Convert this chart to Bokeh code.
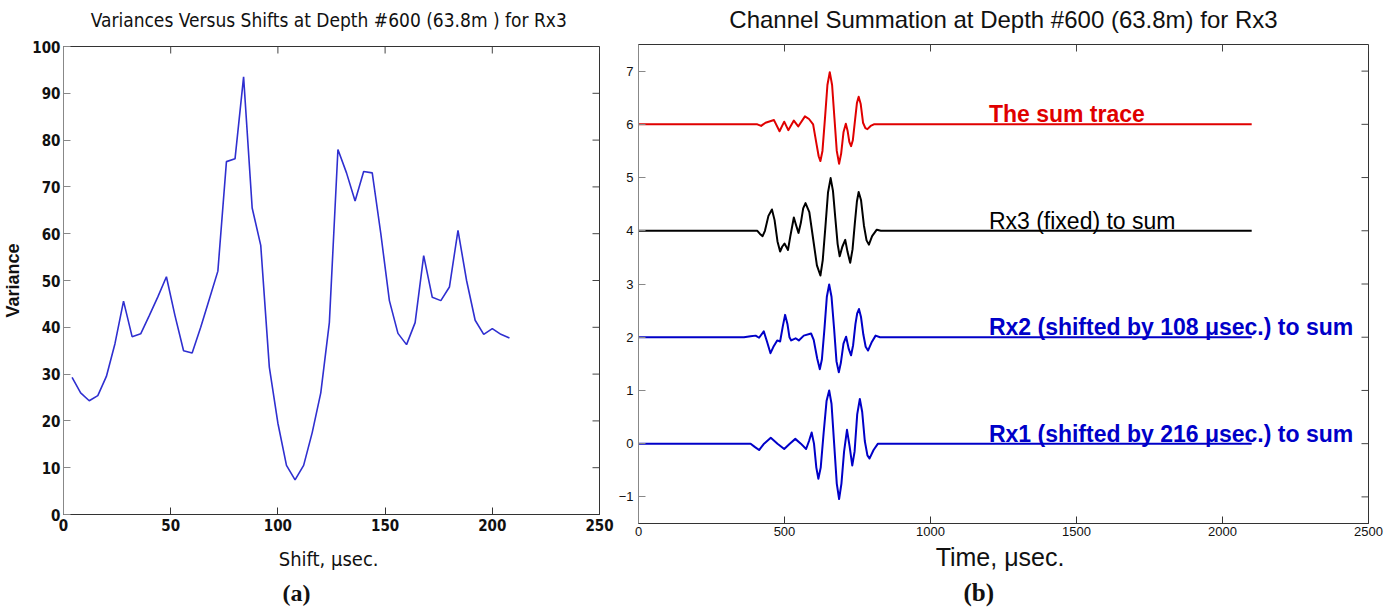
import math
from bokeh.plotting import figure
from bokeh.layouts import row
from bokeh.models import Range1d, Label, FixedTicker, Title, LinearAxis
from bokeh.embed import file_html
from bokeh.resources import INLINE

# ---------------- data: panel (a) ----------------
shift_us = [4, 8, 12, 16, 20, 24, 28, 32, 36, 40, 44, 48, 52, 56, 60, 64, 68, 72,
            76, 80, 84, 88, 92, 96, 100, 104, 108, 112, 116, 120, 124, 128, 132,
            136, 140, 144, 148, 152, 156, 160, 164, 168, 172, 176, 180, 184, 188,
            192, 196, 200, 204, 208]
variance = [29.3, 26.0, 24.3, 25.4, 29.5, 36.5, 45.6, 38.0, 38.6, 42.5, 46.5, 50.8,
            42.5, 35.0, 34.5, 40.0, 46.0, 52.0, 75.4, 76.0, 93.5, 65.5, 57.5, 31.5,
            19.5, 10.5, 7.4, 10.5, 17.5, 26.0, 41.0, 78.0, 73.0, 67.0, 73.3, 73.0,
            60.0, 45.7, 38.7, 36.3, 41.0, 55.3, 46.4, 45.7, 48.6, 60.7, 50.0, 41.5,
            38.5, 39.7, 38.5, 37.7]
a_xticks = [0, 50, 100, 150, 200, 250]
a_yticks = [0, 10, 20, 30, 40, 50, 60, 70, 80, 90, 100]

# ---------------- data: panel (b) ----------------
sum_t = [0, 372, 407, 420, 435, 464, 483, 499, 513, 532, 547, 570, 584, 598, 610,
         617, 623, 630, 639, 647, 655, 663, 671, 679, 687, 694, 702, 710, 716, 722,
         728, 734, 741, 748, 754, 761, 769, 777, 784, 795, 806, 2100]
sum_a = [0, 0, 0, -0.03, 0.03, 0.08, -0.13, 0.05, -0.11, 0.07, -0.04, 0.15, 0.10,
         0.0, -0.38, -0.60, -0.69, -0.50, 0.14, 0.74, 0.98, 0.74, 0.12, -0.50, -0.74,
         -0.55, -0.15, 0.01, -0.12, -0.33, -0.41, -0.30, 0.05, 0.40, 0.52, 0.38, 0.03,
         -0.07, -0.09, -0.03, 0, 0]

rx3_t = [0, 407, 416, 425, 433, 445, 457, 466, 476, 485, 492, 500, 506, 512, 520,
         532, 540, 548, 556, 564, 572, 585, 598, 611, 623, 631, 640, 649, 658, 666,
         674, 682, 689, 698, 708, 716, 725, 733, 741, 748, 754, 762, 772, 781, 789,
         800, 816, 830, 2100]
rx3_a = [0, 0, -0.06, -0.10, 0.0, 0.28, 0.40, 0.20, -0.20, -0.39, -0.30, -0.24,
         -0.30, -0.36, -0.10, 0.25, 0.10, -0.04, 0.15, 0.42, 0.52, 0.35, -0.15,
         -0.65, -0.84, -0.55, 0.07, 0.72, 0.99, 0.75, 0.24, -0.25, -0.48, -0.30,
         -0.17, -0.40, -0.60, -0.35, 0.15, 0.55, 0.73, 0.58, 0.10, -0.18, -0.26,
         -0.10, 0.02, 0, 0]

rx2_t = [0, 361, 384, 401, 413, 429, 440, 452, 462, 475, 485, 494, 502, 510, 517,
         523, 538, 549, 566, 591, 600, 612, 621, 628, 637, 645, 653, 661, 670, 678,
         686, 693, 702, 711, 720, 728, 735, 743, 749, 755, 762, 770, 778, 786, 798,
         812, 827, 2100]
rx2_a = [0, 0, 0.02, 0.03, -0.01, 0.11, -0.08, -0.30, -0.18, -0.06, -0.08, 0.20,
         0.42, 0.25, 0.0, -0.06, -0.02, -0.06, 0.03, 0.07, -0.05, -0.40, -0.60,
         -0.42, 0.17, 0.76, 0.99, 0.76, 0.15, -0.45, -0.66, -0.48, -0.12, 0.01,
         -0.22, -0.34, -0.15, 0.25, 0.45, 0.53, 0.38, 0.05, -0.18, -0.25, -0.10,
         0.03, 0, 0]

rx1_t = [0, 384, 398, 413, 430, 453, 476, 499, 518, 537, 556, 574, 584, 593, 601,
         609, 616, 624, 634, 644, 653, 661, 670, 679, 687, 695, 704, 714, 723, 732,
         740, 749, 758, 766, 775, 784, 791, 805, 820, 2100]
rx1_a = [0, 0, -0.06, -0.12, 0.0, 0.11, 0.0, -0.10, 0.0, 0.09, 0.0, -0.10, 0.05,
         0.21, 0.0, -0.45, -0.66, -0.45, 0.20, 0.80, 1.00, 0.75, 0.0, -0.75, -1.04,
         -0.75, -0.15, 0.26, -0.05, -0.41, -0.15, 0.55, 0.84, 0.60, 0.05, -0.22,
         -0.28, -0.12, 0, 0]

trace_offsets = [6, 4, 2, 0]
trace_names = ["The sum trace", "Rx3 (fixed) to sum",
               "Rx2 (shifted by 108 \u03bcsec.) to sum",
               "Rx1 (shifted by 216 \u03bcsec.) to sum"]
b_xticks = [0, 500, 1000, 1500, 2000, 2500]
b_yticks = [-1, 0, 1, 2, 3, 4, 5, 6, 7]

NARROW = "'Liberation Sans Narrow', 'Arial Narrow', 'DejaVu Sans Condensed', sans-serif"
SANS = "'Liberation Sans', Arial, sans-serif"
SERIF = "'Liberation Serif', 'Times New Roman', serif"


def style_axis(ax, ticks, font, size, bold, color, standoff):
    ax.ticker = FixedTicker(ticks=ticks)
    ax.major_tick_in = 7
    ax.major_tick_out = 0
    ax.minor_tick_line_color = None
    ax.axis_line_color = color
    ax.major_tick_line_color = color
    ax.major_label_text_font = font
    ax.major_label_text_font_size = size
    ax.major_label_text_font_style = "bold" if bold else "normal"
    ax.major_label_text_color = "#111111"
    ax.major_label_standoff = standoff


def frame_ticks(p, xticks, yticks, xmax, ymax, color):
    # inward tick marks on the top and right edges of the box
    p.ray(x=xticks, y=[ymax] * len(xticks), length=7, length_units="screen",
          angle=-math.pi / 2, line_color=color, line_width=1)
    p.ray(x=[xmax] * len(yticks), y=yticks, length=7, length_units="screen",
          angle=math.pi, line_color=color, line_width=1)


def title_axis(text, font, size, standoff):
    # tick-less axis above the frame that only carries the chart title
    ax = LinearAxis(ticker=FixedTicker(ticks=[]))
    ax.axis_line_color = None
    ax.major_tick_line_color = None
    ax.minor_tick_line_color = None
    ax.major_tick_out = 0
    ax.major_tick_in = 0
    ax.major_label_standoff = 0
    ax.axis_label = text
    ax.axis_label_text_font = font
    ax.axis_label_text_font_size = size
    ax.axis_label_text_font_style = "normal"
    ax.axis_label_text_color = "#111111"
    ax.axis_label_standoff = standoff
    return ax


# ---------------- panel (a) ----------------
p1 = figure(width=615, height=610, x_range=Range1d(0, 250), y_range=Range1d(0, 100),
            output_backend="svg", toolbar_location=None,
            min_border_left=57, min_border_right=16, min_border_top=46,
            min_border_bottom=96)
p1.frame_align = False
p1.grid.grid_line_color = None
p1.outline_line_color = "#333333"
p1.background_fill_color = "white"
p1.border_fill_color = "white"

style_axis(p1.xaxis[0], a_xticks, NARROW, "15px", True, "#333333", 4)
style_axis(p1.yaxis[0], a_yticks, NARROW, "15px", True, "#888888", 3)
p1.xaxis[0].axis_label = "Shift,  \u03bcsec."
p1.xaxis[0].axis_label_text_font = NARROW
p1.xaxis[0].axis_label_text_font_size = "20px"
p1.xaxis[0].axis_label_text_font_style = "normal"
p1.xaxis[0].axis_label_text_color = "#111111"
p1.xaxis[0].axis_label_standoff = 13
p1.yaxis[0].axis_label = "Variance"
p1.yaxis[0].axis_label_text_font = SANS
p1.yaxis[0].axis_label_text_font_size = "18px"
p1.yaxis[0].axis_label_text_font_style = "bold"
p1.yaxis[0].axis_label_text_color = "#111111"
p1.yaxis[0].axis_label_standoff = 6
frame_ticks(p1, a_xticks, a_yticks, 250, 100, "#444444")
p1.add_layout(title_axis("Variances  Versus Shifts at Depth #600 (63.8m ) for Rx3",
                         NARROW, "19px", 16), "above")

p1.line(shift_us, variance, line_color="#2f2fd0", line_width=1.6)

p1.add_layout(Title(text="(a)", align="left", offset=219, text_font=SERIF,
                    text_font_size="24px", text_font_style="bold",
                    text_color="#111111", standoff=8), "below")

# ---------------- panel (b) ----------------
p2 = figure(width=780, height=610, x_range=Range1d(0, 2500), y_range=Range1d(-1.5, 7.5),
            output_backend="svg", toolbar_location=None,
            min_border_left=23, min_border_right=27, min_border_top=44,
            min_border_bottom=87)
p2.frame_align = False
p2.grid.grid_line_color = None
p2.outline_line_color = "#333333"
p2.background_fill_color = "white"
p2.border_fill_color = "white"

style_axis(p2.xaxis[0], b_xticks, SANS, "13px", False, "#333333", 3)
style_axis(p2.yaxis[0], b_yticks, SANS, "13px", False, "#888888", 5)
p2.xaxis[0].axis_label = "Time,  \u03bcsec."
p2.xaxis[0].axis_label_text_font = SANS
p2.xaxis[0].axis_label_text_font_size = "25px"
p2.xaxis[0].axis_label_text_font_style = "normal"
p2.xaxis[0].axis_label_text_color = "#111111"
p2.xaxis[0].axis_label_standoff = 4
frame_ticks(p2, b_xticks, b_yticks, 2500, 7.5, "#444444")
p2.add_layout(title_axis("Channel Summation at Depth #600 (63.8m) for Rx3",
                         SANS, "24px", 12), "above")

traces = [(sum_t, sum_a, "#e00000"), (rx3_t, rx3_a, "#000000"),
          (rx2_t, rx2_a, "#0000c8"), (rx1_t, rx1_a, "#0000c8")]
for (tt, aa, col), off in zip(traces, trace_offsets):
    p2.line(tt, [v + off for v in aa], line_color=col, line_width=2, line_join="round")

label_styles = [("#e00000", "bold"), ("#000000", "normal"),
                ("#0000c8", "bold"), ("#0000c8", "bold")]
for name, off, (col, fs) in zip(trace_names, trace_offsets, label_styles):
    p2.add_layout(Label(x=1200, y=off - 0.056, text=name, text_align="left",
                        text_baseline="bottom", text_font=SANS,
                        text_font_size="23px", text_font_style=fs, text_color=col))

p2.add_layout(Title(text="(b)", align="left", offset=325, text_font=SERIF,
                    text_font_size="25px", text_font_style="bold",
                    text_color="#111111", standoff=7), "below")

layout = row(p1, p2)
open("out.html", "w").write(file_html(layout, INLINE))
